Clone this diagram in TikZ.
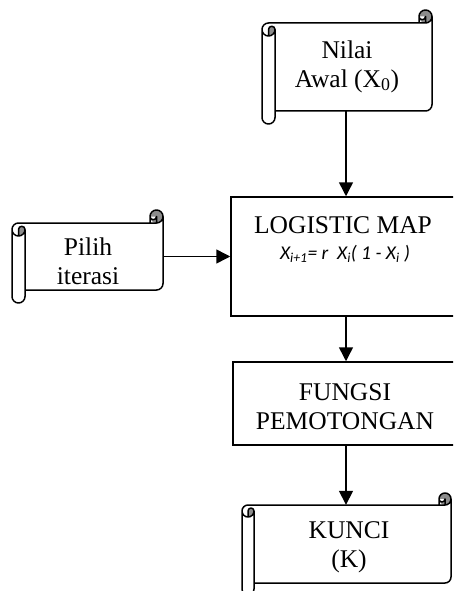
\documentclass[tikz,border=0pt]{standalone}
\usepackage{fontspec}
\setmainfont{Liberation Serif}
\newfontfamily\carlito{Carlito}
\usetikzlibrary{arrows.meta}
\tikzset{
  lw/.style={line width=1.5pt},
  scrollbody/.style={rectangle,inner sep=0pt,draw=none},
  scrollline/.style={lw,draw=black,line join=round},
  curlgray/.style={fill=black!45},
  box/.style={rectangle,draw=black,lw,inner sep=0pt},
  txt/.style={font=\fontsize{25.5}{29}\selectfont,align=center,inner sep=0pt},
  formula/.style={font=\carlito\itshape\fontsize{19.5}{22}\selectfont,inner sep=0pt},
  arr/.style={lw,-{Triangle[length=14pt,width=14pt]}}
}
% #1 name, #2 left, #3 top, #4 right, #5 bottom, #6 curl size
\newcommand{\hscroll}[6]{%
  \pgfmathsetmacro\hsL{#2}\pgfmathsetmacro\hsT{#3}%
  \pgfmathsetmacro\hsR{#4}\pgfmathsetmacro\hsB{#5}%
  \pgfmathsetmacro\hsC{#6}\pgfmathsetmacro\hsCc{#6/2}\pgfmathsetmacro\hsCq{#6/4}%
  \pgfmathsetmacro\hsYa{\hsT+\hsC}%
  \pgfmathsetmacro\hsYb{\hsT+\hsCc}%
  \pgfmathsetmacro\hsYc{\hsT+1.5*\hsC}%
  \pgfmathsetmacro\hsYd{\hsT+2*\hsC}%
  \pgfmathsetmacro\hsYf{\hsB-\hsC}%
  \pgfmathsetmacro\hsYg{\hsB-\hsCc}%
  \pgfmathsetmacro\hsYe{\hsYf-\hsCc}%
  \pgfmathsetmacro\hsXa{\hsL+\hsC}%
  \pgfmathsetmacro\hsXb{\hsL+\hsCc}%
  \pgfmathsetmacro\hsXc{\hsR-\hsC}%
  \pgfmathsetmacro\hsXd{\hsR-\hsCc}%
  \node[scrollbody,minimum width={\hsR-\hsL},minimum height={\hsYf-\hsYa}]
    (#1) at ({(\hsL+\hsR)/2},{(\hsYa+\hsYf)/2}) {};
  \fill[curlgray] (\hsXd,\hsYb) circle[radius=\hsCc];
  \fill[white] (\hsXd,\hsYb) arc[start angle=0,delta angle=180,radius=\hsCq] -- cycle;
  \fill[curlgray] (\hsXb,\hsYc) arc[start angle=180,delta angle=180,radius=\hsCq]
    arc[start angle=0,delta angle=90,radius=\hsCc] -- cycle;
  \draw[scrollline]
    (\hsL,\hsYc) arc[start angle=180,delta angle=90,radius=\hsCc]
    -- (\hsXc,\hsYa) -- (\hsXc,\hsYb)
    arc[start angle=180,delta angle=180,radius=\hsCc]
    -- (\hsR,\hsYe) arc[start angle=0,delta angle=90,radius=\hsCc]
    -- (\hsXa,\hsYf) -- (\hsXa,\hsYg)
    arc[start angle=0,delta angle=180,radius=\hsCc] -- cycle
    (\hsXc,\hsYa) -- (\hsXd,\hsYa) arc[start angle=90,delta angle=-90,radius=\hsCc]
    (\hsXd,\hsYa) -- (\hsXd,\hsYb) arc[start angle=0,delta angle=180,radius=\hsCq]
    (\hsXb,\hsYd) -- (\hsXb,\hsYc) arc[start angle=180,delta angle=180,radius=\hsCq]
    arc[start angle=0,delta angle=180,radius=\hsCc]
    (\hsXa,\hsYc) -- (\hsXa,\hsYf);
}
\begin{document}
\begin{tikzpicture}[x=1pt,y=-1pt]
\useasboundingbox (0,0) rectangle (453,591);
\clip (0,0) rectangle (453,591);
\fill[white] (0,0) rectangle (453,591);

% scrolls
\hscroll{nilai}{262}{10}{432}{124}{13}
\hscroll{pilih}{12}{210}{163}{303}{13}
\hscroll{kunci}{242}{493}{451}{595}{12}

% process boxes
\node[box,minimum width=230,minimum height=119] (logistic) at (346,256.5) {};
\node[box,minimum width=226,minimum height=83] (fungsi) at (346,403.5) {};

% texts
\node[txt] (nilaiT) at (347,66.5) {Nilai\\Awal (X\textsubscript{0})};
\node[txt] (pilihT) at (88,261) {Pilih\\iterasi};
\node[txt] (logT) at (343,224.7) {LOGISTIC MAP};
\node[formula] (logF) at (345,253.5) {X\textsubscript{i+1}= r \ X\textsubscript{i}( 1 - X\textsubscript{i} )};
\node[txt] (fungsiT) at (345,406.5) {FUNGSI\\PEMOTONGAN};
\node[txt] (kunciT) at (349,547) {KUNCI\\(K)};

% connectors
\draw[arr] (logistic.north |- nilai.south) -- (logistic.north);
\draw[arr] (pilih.east) -- (logistic.west |- pilih.east);
\draw[arr] (logistic.south) -- (fungsi.north);
\draw[arr] (fungsi.south) -- (fungsi.south |- kunci.north);
\end{tikzpicture}
\end{document}
